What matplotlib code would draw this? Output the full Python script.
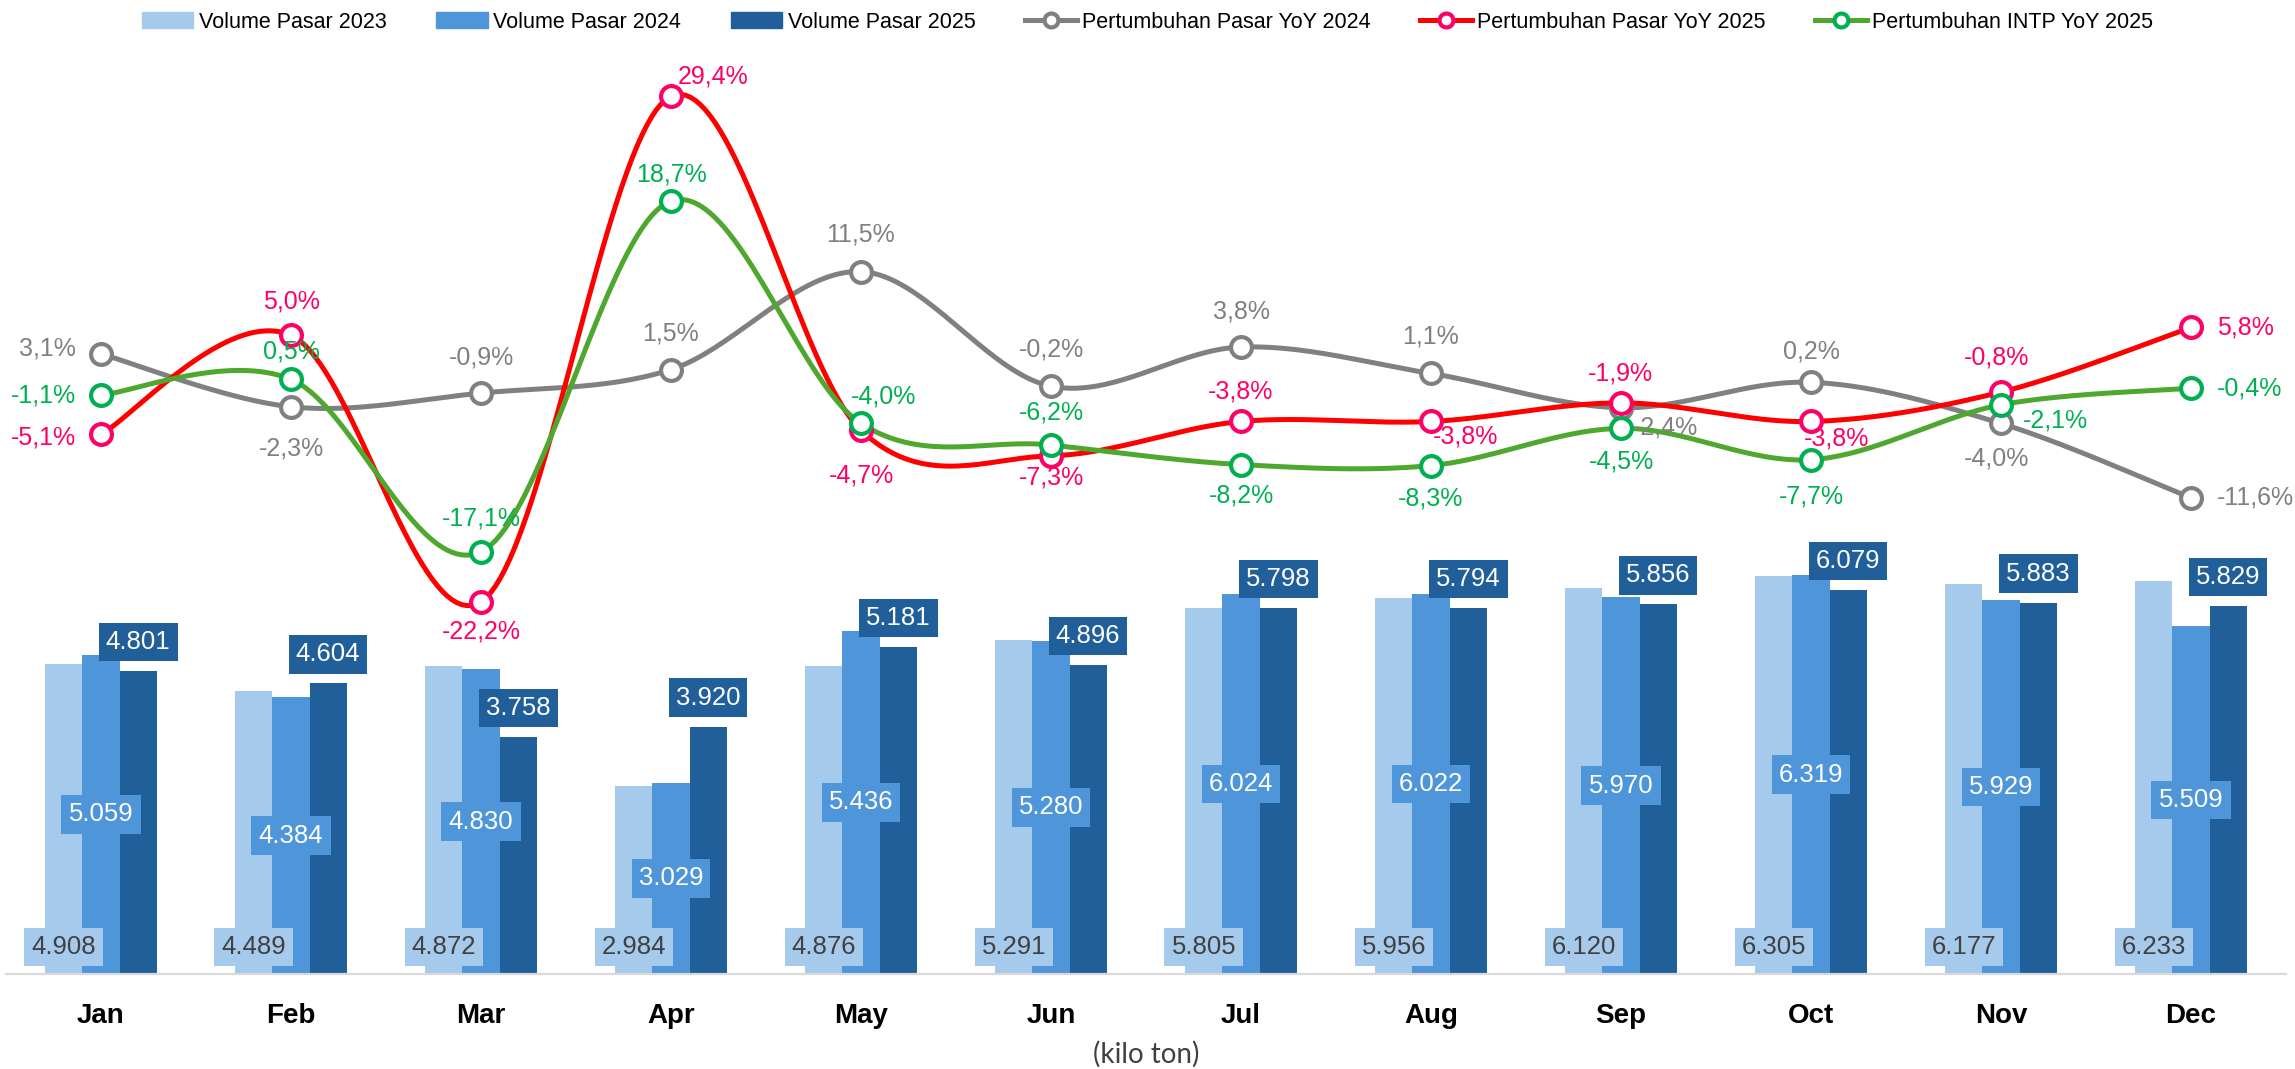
# Grafik volume pasar bulanan + pertumbuhan YoY
import numpy as np
import matplotlib.pyplot as plt
from matplotlib.lines import Line2D
from matplotlib.patches import Patch

# Data (kilo ton dan %)
bulan = ['Jan', 'Feb', 'Mar', 'Apr', 'May', 'Jun', 'Jul', 'Aug', 'Sep', 'Oct', 'Nov', 'Dec']
vol_2023 = [4908, 4489, 4872, 2984, 4876, 5291, 5805, 5956, 6120, 6305, 6177, 6233]
vol_2024 = [5059, 4384, 4830, 3029, 5436, 5280, 6024, 6022, 5970, 6319, 5929, 5509]
vol_2025 = [4801, 4604, 3758, 3920, 5181, 4896, 5798, 5794, 5856, 6079, 5883, 5829]
yoy_2024 = [3.1, -2.3, -0.9, 1.5, 11.5, -0.2, 3.8, 1.1, -2.4, 0.2, -4.0, -11.6]
yoy_2025 = [-5.1, 5.0, -22.2, 29.4, -4.7, -7.3, -3.8, -3.8, -1.9, -3.8, -0.8, 5.8]
intp_2025 = [-1.1, 0.5, -17.1, 18.7, -4.0, -6.2, -8.2, -8.3, -4.5, -7.7, -2.1, -0.4]

# posisi label persen: (ha, dx px, dy px ke bawah)
pos_2024 = [('right', -25, -5), ('center', 0, 42), ('center', 0, -36), ('center', 0, -36),
            ('center', 0, -37), ('center', 0, -37), ('center', 0, -36), ('center', 0, -37),
            ('center', 44, 20), ('center', 0, -31), ('center', -4, 35), ('left', 26, 0)]
pos_2025 = [('right', -25, 3), ('center', 0, -34), ('center', 0, 30), ('left', 7, -20),
            ('center', 0, 45), ('center', 0, 22), ('center', 0, -30), ('center', 35, 15),
            ('center', -1, -29), ('center', 26, 17), ('center', -4, -35), ('left', 26, 0)]
pos_intp = [('right', -25, 0), ('center', 0, -28), ('center', 0, -33), ('center', 0, -27),
            ('center', 23, -27), ('center', 0, -32), ('center', 0, 31), ('center', 0, 33),
            ('center', 0, 33), ('center', 0, 37), ('left', 22, 16), ('left', 26, 0)]

# Warna
c23, c24, c25 = '#A6CAEC', '#4E95D9', '#215F9A'
abu, merah, merah_mk, hijau, hijau_mk = '#808080', '#FF0000', '#FF0066', '#4EA72E', '#00B050'

font_narrow = ['Liberation Sans Narrow', 'Liberation Sans', 'DejaVu Sans']
font_label = ['Liberation Sans', 'DejaVu Sans']


def fmt_ribu(v):
    return f"{v:,}".replace(',', '.')


def fmt_pct(v):
    return f"{v:.1f}%".replace('.', ',')


def kurva_halus(y, n=40):
    # spline Catmull-Rom (mirip garis smooth di Excel)
    p = np.column_stack([np.arange(len(y), dtype=float), np.asarray(y, float)])
    pp = np.vstack([p[0], p, p[-1]])
    t = np.linspace(0, 1, n)[:, None]
    hasil = []
    for i in range(len(p) - 1):
        p0, p1, p2, p3 = pp[i], pp[i + 1], pp[i + 2], pp[i + 3]
        k1 = p1 + (p2 - p0) / 6
        k2 = p2 - (p3 - p1) / 6
        b = (1 - t) ** 3 * p1 + 3 * (1 - t) ** 2 * t * k1 + 3 * (1 - t) * t ** 2 * k2 + t ** 3 * p2
        hasil.append(b if i == 0 else b[1:])
    s = np.vstack(hasil)
    return s[:, 0], s[:, 1]


fig = plt.figure(figsize=(22.95, 10.69), dpi=100)
ax = fig.add_axes([6 / 2295, 95 / 1069, 2280 / 2295, 914 / 1069])
ax2 = ax.twinx()

x = np.arange(len(bulan))
w = 0.195
ax.bar(x - w, vol_2023, w, color=c23, zorder=2)
ax.bar(x, vol_2024, w, color=c24, zorder=2)
ax.bar(x + w, vol_2025, w, color=c25, zorder=2)

ax.set_xlim(-0.5, 11.5)
ax.set_ylim(0, 14480)

# label batang
for i in range(len(bulan)):
    ax.annotate(fmt_ribu(vol_2023[i]), (x[i] - w, 0), xytext=(0, 27), textcoords='offset pixels',
                ha='center', va='center', fontsize=18.5, family=font_label, color='#404040', zorder=5,
                bbox=dict(boxstyle='square,pad=0.28', fc=c23, ec='none'))
    ax.annotate(fmt_ribu(vol_2024[i]), (x[i], vol_2024[i] / 2), ha='center', va='center',
                fontsize=18.5, family=font_label, color='white', zorder=5,
                bbox=dict(boxstyle='square,pad=0.28', fc=c24, ec='none'))
    ax.annotate(fmt_ribu(vol_2025[i]), (x[i] + w, vol_2025[i]), xytext=(0, 29), textcoords='offset pixels',
                ha='center', va='center', fontsize=18.5, family=font_label, color='white', zorder=5,
                bbox=dict(boxstyle='square,pad=0.28', fc=c25, ec='none'))

# garis pertumbuhan
seri = [(yoy_2024, abu, abu, abu, pos_2024),
        (yoy_2025, merah, merah_mk, merah_mk, pos_2025),
        (intp_2025, hijau, hijau_mk, hijau_mk, pos_intp)]
for nilai, cl, cm, ct, pos in seri:
    xs, ys = kurva_halus(nilai)
    ax2.plot(xs, ys, color=cl, lw=3.6, solid_capstyle='round', zorder=3)
    ax2.plot(x, nilai, 'o', ms=15, mfc='white', mec=cm, mew=3, zorder=4)
    for i, v in enumerate(nilai):
        ha, dx, dy = pos[i]
        ax2.annotate(fmt_pct(v), (x[i], v), xytext=(dx, -dy), textcoords='offset pixels',
                     ha=ha, va='center', fontsize=18, family=font_label, color=ct, zorder=6)

ax2.set_ylim(-60.2, 33.1)

for a in (ax, ax2):
    for s in ['top', 'right', 'left']:
        a.spines[s].set_visible(False)
    a.set_yticks([])
ax2.spines['bottom'].set_visible(False)
ax.spines['bottom'].set_color('#D9D9D9')
ax.spines['bottom'].set_linewidth(1.6)

ax.set_xticks(x)
ax.set_xticklabels(bulan, fontsize=20, fontweight='bold', family=font_narrow)
ax.tick_params(axis='x', length=0, pad=21)

fig.text(1146 / 2295, 1 - 1054 / 1069, '(kilo ton)', ha='center', va='center',
         fontsize=20, color='#404040', family=['Lato', 'DejaVu Sans'])

# legenda
handles = [Patch(color=c23), Patch(color=c24), Patch(color=c25),
           Line2D([], [], color=abu, lw=3.6, marker='o', ms=10, mfc='white', mec=abu, mew=3),
           Line2D([], [], color=merah, lw=3.6, marker='o', ms=10, mfc='white', mec=merah_mk, mew=3),
           Line2D([], [], color=hijau, lw=3.6, marker='o', ms=10, mfc='white', mec=hijau_mk, mew=3)]
labels = ['Volume Pasar 2023', 'Volume Pasar 2024', 'Volume Pasar 2025',
          'Pertumbuhan Pasar YoY 2024', 'Pertumbuhan Pasar YoY 2025', 'Pertumbuhan INTP YoY 2025']
fig.legend(handles, labels, loc='center', bbox_to_anchor=(0.5, 1 - 22 / 1069), ncol=6,
           frameon=False, prop={'family': font_narrow, 'size': 15.5}, handlelength=2.4,
           handletextpad=0.25, columnspacing=2.3)

fig.savefig('out.png', dpi=100)
